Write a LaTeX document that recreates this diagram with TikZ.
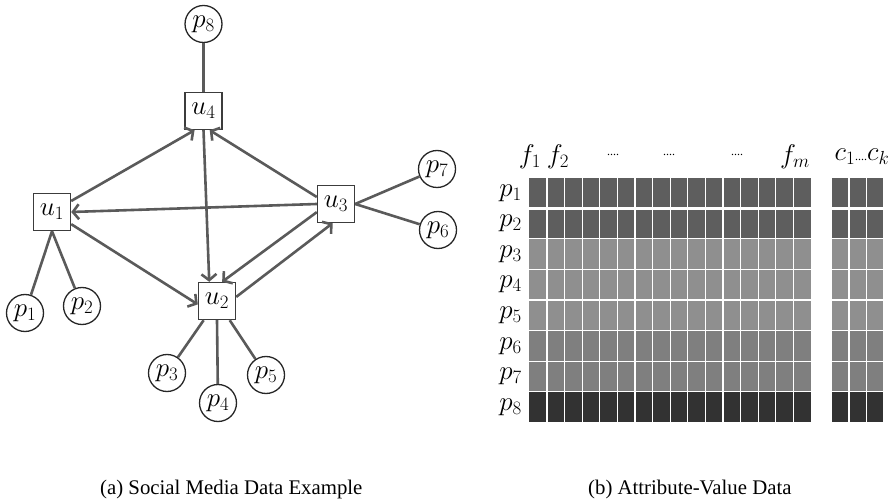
\RequirePackage{fix-cm}
\documentclass[tikz,border=0pt]{standalone}
\usepackage[no-math]{fontspec}
\setmainfont{Liberation Serif}
\usetikzlibrary{arrows.meta,positioning}

\definecolor{edgegray}{HTML}{5A5A5A}
\definecolor{boxgray}{HTML}{3C3C3C}
\definecolor{rowA}{HTML}{5E5E5E}
\definecolor{rowB}{HTML}{8F8F8F}
\definecolor{rowC}{HTML}{7F7F7F}
\definecolor{rowD}{HTML}{323232}

\def\labfont{\fontsize{27}{29}\selectfont}

\begin{document}
\begin{tikzpicture}[x=1pt,y=-1pt,
    usr/.style={draw=boxgray, line width=1.4pt, fill=white, minimum size=37pt, inner sep=0pt, font=\labfont},
    post/.style={circle, draw=black!85, line width=1.3pt, fill=white, minimum size=37pt, inner sep=0pt, font=\labfont},
    follow/.style={draw=edgegray, line width=2.6pt, -{Straight Barb[length=6pt,width=15pt]}},
    tie/.style={draw=edgegray, line width=2.6pt},
    lbl/.style={font=\labfont, inner sep=0pt}]
  \useasboundingbox (0,0) rectangle (896,502);

  % (a) users and posts
  \node[usr] (u1) at (52,212) {$u_1$};
  \node[usr] (u2) at (217,301) {$u_2$};
  \node[usr] (u3) at (336,204) {$u_3$};
  \node[usr] (u4) at (203.5,111) {$u_4$};

  \node[post] (p1) at (25,313) {$p_1$};
  \node[post] (p2) at (82,306) {$p_2$};
  \node[post] (p3) at (167,373) {$p_3$};
  \node[post] (p4) at (218,403) {$p_4$};
  \node[post] (p5) at (266,375) {$p_5$};
  \node[post] (p6) at (438,230) {$p_6$};
  \node[post] (p7) at (437,169) {$p_7$};
  \node[post] (p8) at (203.5,24) {$p_8$};

  \draw[tie] (p8) -- (u4);
  \draw[tie] (u1.south) -- (p1);
  \draw[tie] (u1.south) -- (p2);
  \draw[tie] (u2) -- (p3);
  \draw[tie] (u2.south) -- (p4);
  \draw[tie] (u2) -- (p5);
  \draw[tie] (u3.east) -- (p7);
  \draw[tie] (u3.east) -- (p6);

  \draw[follow] (u1) -- (u4.-115);
  \draw[follow] (u3.160) -- (u4.-72);
  \draw[follow] (u4.south) -- (u2.112);
  \draw[follow] (u3.west) -- (u1.east);
  \draw[follow] (u1) -- (u2.190);
  \draw[follow] (u3.203) -- (u2.75);
  \draw[follow] (u2.12) -- (u3.-100);

  % (b) attribute-value matrix
  \foreach \r/\c in {0/rowA,1/rowA,2/rowB,3/rowB,4/rowB,5/rowC,6/rowC,7/rowD} {
    \fill[\c] (529.3,177.7+\r*30.58) rectangle +(281.7,30.58);
    \fill[\c] (831.7,177.7+\r*30.58) rectangle +(51.6,30.58);
  }
  \foreach \i in {1,...,15}
    \draw[white, line width=1.2pt] (529.3+\i*17.6,177.7) -- +(0,244.6);
  \foreach \i in {1,2}
    \draw[white, line width=1.2pt] (831.7+\i*17.2,177.7) -- +(0,244.6);
  \foreach \r in {2,...,7} {
    \draw[white, line width=1.2pt] (529.3,177.7+\r*30.58) -- +(281.7,0);
    \draw[white, line width=1.2pt] (831.7,177.7+\r*30.58) -- +(51.6,0);
  }
  \draw[white, line width=2.6pt] (529.3,208.3) -- +(281.7,0);
  \draw[white, line width=2.6pt] (831.7,208.3) -- +(51.6,0);

  \foreach \r in {1,...,8}
    \node[lbl, anchor=east] (row\r) at (522,177.7+\r*30.58-15.29) {$p_{\r}$};

  \node[lbl] (f1) at (530,157) {$f_1$};
  \node[lbl] (f2) at (558,157) {$f_2$};
  \node[font=\fontsize{12}{12}\selectfont] (dotsa) at (613,155) {....};
  \node[font=\fontsize{12}{12}\selectfont] (dotsb) at (669,155) {....};
  \node[font=\fontsize{12}{12}\selectfont] (dotsc) at (737,155) {....};
  \node[lbl] (fm) at (795,157) {$f_m$};
  \node[lbl] (cls) at (862,157) {$c_1$\makebox{\fontsize{12}{12}\selectfont ....}$c_k$};

  % captions
  \node[anchor=base west, inner sep=0pt, font=\fontsize{20.8}{24}\selectfont] (capa) at (100,494) {(a) Social Media Data Example};
  \node[anchor=base west, inner sep=0pt, font=\fontsize{20.8}{24}\selectfont] (capb) at (588,494) {(b) Attribute-Value Data};
\end{tikzpicture}
\end{document}
